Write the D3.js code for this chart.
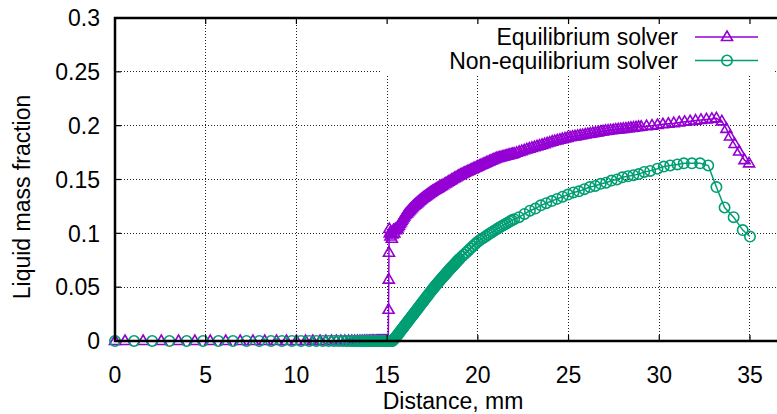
<!DOCTYPE html>
<html>
<head>
<meta charset="utf-8">
<script src="https://cdn.jsdelivr.net/npm/d3@7"></script>
<style>
body { margin: 0; background: #fff; }
svg text { font-family: "Liberation Sans", Arial, Helvetica, sans-serif; font-size: 23px; fill: #000; }
</style>
</head>
<body>
<div id="chart"></div>
<script>
const xTicks = [0, 5, 10, 15, 20, 25, 30, 35];
const yTicks = [0, 0.05, 0.1, 0.15, 0.2, 0.25, 0.3];
const yTickLabels = ["0", "0.05", "0.1", "0.15", "0.2", "0.25", "0.3"];
const seriesNames = ["Equilibrium solver", "Non-equilibrium solver"];
const seriesColors = ["#9400d3", "#009e73"];

// [distance mm, liquid mass fraction]
const equilibrium = [
  [0,0],[0.55,0],[1.55,0],[2.55,0],[3.5,0],[4.4,0],[5.25,0],[6.1,0],[6.9,0],[7.6,0],
  [8.25,0],[8.9,0],[9.45,0],[10.0,0],[10.5,0],[10.9,0],[11.3,0],[11.62,0],[11.93,0],[12.2,0],
  [12.45,0],[12.67,0],[12.87,0],[13.05,0],[13.21,0],[13.36,0],[13.5,0],[13.62,0],[13.74,0],[13.84,0],
  [13.94,0],[14.03,0],[14.11,0],[14.19,0],[14.26,0],[14.33,0],[14.4,0],[14.46,0],[14.52,0],[14.58,0],
  [14.63,0],[14.68,0],[14.73,0],[14.78,0],[14.82,0],[14.86,0],[14.9,0],[14.94,0],[14.98,0],[15.02,0],
  [15.06,0],[15.08,0.029],[15.09,0.057],[15.1,0.082],[15.12,0.104],
  [15.14,0.100],[15.18,0.097],[15.22,0.101],[15.26,0.095],[15.30,0.099],[15.35,0.103],[15.40,0.100],
  [15.45,0.104],[15.50,0.103],
  [15.55,0.1044],[15.60,0.1058],[15.65,0.1072],[15.70,0.1086],[15.75,0.1100],[15.80,0.1114],[15.85,0.1128],
  [15.90,0.1142],[15.95,0.1156],[16.00,0.1170],[16.05,0.1179],[16.10,0.1188],[16.15,0.1197],[16.20,0.1206],
  [16.25,0.1215],[16.30,0.1224],[16.35,0.1233],[16.40,0.1242],[16.45,0.1251],[16.50,0.1260],[16.55,0.1267],
  [16.60,0.1274],[16.65,0.1281],[16.70,0.1288],[16.75,0.1295],[16.80,0.1302],[16.85,0.1309],[16.90,0.1316],
  [16.95,0.1323],[17.00,0.1330],[17.05,0.1336],[17.10,0.1342],[17.15,0.1348],[17.20,0.1354],[17.25,0.1360],
  [17.30,0.1366],[17.35,0.1372],[17.40,0.1378],[17.45,0.1384],[17.50,0.1390],[17.55,0.1395],[17.60,0.1400],
  [17.65,0.1405],[17.70,0.1410],[17.75,0.1415],[17.80,0.1420],[17.85,0.1425],[17.90,0.1430],[17.95,0.1435],
  [18.00,0.1440],[18.08,0.1448],[18.16,0.1456],[18.24,0.1464],[18.32,0.1472],[18.40,0.1480],[18.48,0.1488],
  [18.56,0.1496],[18.64,0.1504],[18.72,0.1512],[18.80,0.1520],[18.88,0.1528],[18.96,0.1536],[19.04,0.1543],
  [19.12,0.1549],[19.20,0.1556],[19.28,0.1562],[19.36,0.1569],[19.44,0.1575],[19.52,0.1581],[19.60,0.1588],
  [19.68,0.1594],[19.76,0.1601],[19.84,0.1607],[19.92,0.1613],[20.00,0.1620],[20.08,0.1626],[20.16,0.1632],
  [20.24,0.1638],[20.32,0.1644],[20.40,0.1650],[20.48,0.1656],[20.56,0.1662],[20.64,0.1668],[20.72,0.1674],
  [20.80,0.1680],[20.88,0.1686],[20.96,0.1692],[21.04,0.1697],[21.12,0.1701],[21.20,0.1704],[21.28,0.1708],
  [21.36,0.1711],[21.44,0.1715],[21.52,0.1718],[21.60,0.1722],[21.68,0.1726],[21.76,0.1729],[21.84,0.1733],
  [21.92,0.1736],[22.00,0.1740],[22.14,0.1748],[22.28,0.1756],[22.42,0.1763],[22.56,0.1771],[22.70,0.1779],
  [22.84,0.1787],[22.98,0.1794],[23.12,0.1801],[23.26,0.1808],[23.40,0.1815],[23.54,0.1822],[23.68,0.1829],
  [23.82,0.1836],[23.96,0.1843],[24.10,0.1851],[24.24,0.1857],[24.38,0.1863],[24.52,0.1869],[24.66,0.1875],
  [24.80,0.1881],[24.94,0.1887],[25.08,0.1892],[25.22,0.1897],[25.36,0.1901],[25.50,0.1905],[25.64,0.1909],
  [25.78,0.1913],[25.92,0.1918],[26.06,0.1922],[26.20,0.1926],[26.34,0.1930],[26.48,0.1934],[26.62,0.1938],
  [26.76,0.1943],[26.90,0.1947],[27.04,0.1951],[27.18,0.1954],[27.32,0.1957],[27.46,0.1960],[27.60,0.1963],
  [27.74,0.1966],[27.88,0.1968],[28.02,0.1970],[28.16,0.1973],[28.30,0.1976],[28.44,0.1979],[28.58,0.1982],
  [28.72,0.1985],[28.86,0.1988],[29.00,0.1990],[29.30,0.1995],[29.60,0.2000],[29.90,0.2006],[30.20,0.2013],
  [30.50,0.2018],[30.80,0.2023],[31.10,0.2030],[31.40,0.2036],[31.70,0.2041],[32.00,0.2047],[32.30,0.2053],
  [32.60,0.2058],[32.90,0.2063],[33.15,0.2068],[33.45,0.204],[33.70,0.197],[33.90,0.190],[34.15,0.183],
  [34.40,0.176],[34.70,0.168],[34.95,0.165]
];

const nonEquilibrium = [
  [0,0],[1.05,0],[2.05,0],[3.0,0],[3.95,0],[4.85,0],[5.7,0],[6.5,0],[7.25,0],[7.95,0],
  [8.6,0],[9.2,0],[9.75,0],[10.25,0],[10.7,0],[11.1,0],[11.46,0],[11.78,0],[12.07,0],[12.33,0],
  [12.56,0],[12.77,0],[12.96,0],[13.13,0],[13.29,0],[13.43,0],[13.56,0],[13.68,0],[13.79,0],[13.89,0],
  [13.98,0],[14.07,0],[14.15,0],[14.23,0],[14.3,0],[14.37,0],[14.43,0],[14.49,0],[14.55,0],[14.6,0],
  [14.65,0],[14.7,0],[14.75,0],[14.8,0],[14.84,0],[14.88,0],[14.92,0],[14.96,0],[15.0,0],[15.04,0],
  [15.08,0],[15.12,0],[15.16,0],[15.2,0],[15.24,0],[15.28,0],
  [15.32,0.0005],[15.36,0.0013],[15.40,0.0021],[15.45,0.0030],[15.50,0.0040],[15.55,0.0051],[15.60,0.0062],
  [15.65,0.0073],[15.70,0.0084],[15.75,0.0095],[15.80,0.0106],[15.85,0.0117],[15.90,0.0128],[15.95,0.0139],
  [16.00,0.0150],[16.05,0.0161],[16.10,0.0172],[16.15,0.0183],[16.20,0.0194],[16.25,0.0205],[16.30,0.0216],
  [16.35,0.0227],[16.40,0.0238],[16.45,0.0249],[16.50,0.0260],[16.55,0.0271],[16.60,0.0282],[16.65,0.0293],
  [16.70,0.0304],[16.75,0.0315],[16.80,0.0326],[16.85,0.0337],[16.90,0.0348],[16.95,0.0359],[17.00,0.0370],
  [17.05,0.0381],[17.10,0.0392],[17.15,0.0403],[17.20,0.0414],[17.25,0.0425],[17.30,0.0436],[17.35,0.0447],
  [17.40,0.0458],[17.45,0.0469],[17.50,0.0480],[17.55,0.0490],[17.60,0.0500],[17.65,0.0510],[17.70,0.0520],
  [17.75,0.0530],[17.80,0.0540],[17.85,0.0550],[17.90,0.0560],[17.95,0.0570],[18.00,0.0580],[18.05,0.0590],
  [18.10,0.0599],[18.15,0.0609],[18.20,0.0618],[18.25,0.0628],[18.30,0.0637],[18.35,0.0647],[18.40,0.0656],
  [18.45,0.0666],[18.50,0.0675],[18.55,0.0684],[18.60,0.0693],[18.65,0.0702],[18.70,0.0711],[18.75,0.0720],
  [18.80,0.0729],[18.85,0.0738],[18.90,0.0747],[18.95,0.0756],[19.00,0.0765],[19.12,0.0784],[19.24,0.0803],
  [19.36,0.0822],[19.48,0.0841],[19.60,0.0861],[19.72,0.0880],[19.84,0.0899],[19.96,0.0918],[20.08,0.0934],
  [20.20,0.0947],[20.32,0.0960],[20.44,0.0973],[20.56,0.0987],[20.68,0.1000],[20.80,0.1013],[20.92,0.1026],
  [21.04,0.1039],[21.16,0.1052],[21.28,0.1064],[21.40,0.1075],[21.52,0.1087],[21.64,0.1098],[21.76,0.1110],
  [21.88,0.1121],[22.00,0.1131],
  [22.27,0.115],[22.57,0.118],[22.87,0.121],[23.17,0.123],[23.47,0.126],[23.77,0.128],[24.07,0.130],
  [24.37,0.132],[24.67,0.134],[24.97,0.136],[25.27,0.138],[25.57,0.139],[25.87,0.141],[26.17,0.143],
  [26.47,0.144],[26.77,0.146],[27.07,0.147],[27.37,0.149],[27.67,0.150],[27.97,0.152],[28.27,0.153],
  [28.57,0.154],[28.87,0.155],[29.17,0.157],[29.50,0.158],[29.90,0.160],[30.25,0.162],[30.60,0.163],
  [31.00,0.164],[31.35,0.165],[31.80,0.165],[32.25,0.165],[32.70,0.163],[33.15,0.143],[33.60,0.124],
  [34.10,0.115],[34.60,0.103],[35.00,0.097]
];

const width = 777, height = 414;
const plotLeft = 115, plotTop = 18, plotBottom = 341, plotRight = 791.7;

const x = d3.scaleLinear().domain([0, 37.3]).range([plotLeft, plotRight]);
const y = d3.scaleLinear().domain([0, 0.3]).range([plotBottom, plotTop]);

const svg = d3.select("#chart").append("svg")
    .attr("width", width)
    .attr("height", height);

// dotted grid
const grid = svg.append("g")
    .attr("stroke", "#222")
    .attr("stroke-width", 1)
    .attr("stroke-dasharray", "1,2")
    .attr("shape-rendering", "crispEdges");

grid.selectAll("line.vx")
    .data(xTicks.filter(d => d > 0))
    .enter().append("line")
    .attr("x1", d => x(d)).attr("x2", d => x(d))
    .attr("y1", plotBottom).attr("y2", plotTop);

grid.selectAll("line.hy")
    .data(yTicks.filter(d => d > 0 && d < 0.3))
    .enter().append("line")
    .attr("x1", plotLeft).attr("x2", width)
    .attr("y1", d => y(d)).attr("y2", d => y(d));

// series
const triangle = "M0,-6L5.5,3.5L-5.5,3.5Z";
const markStroke = 1.6;
const series = [equilibrium, nonEquilibrium];

series.forEach((data, i) => {
    const color = seriesColors[i];
    const line = d3.line().x(d => x(d[0])).y(d => y(d[1]));

    svg.append("path")
        .datum(data)
        .attr("d", line)
        .attr("fill", "none")
        .attr("stroke", color)
        .attr("stroke-width", 1.5);

    const marks = svg.append("g")
        .attr("fill", "none")
        .attr("stroke", color)
        .attr("stroke-width", markStroke);

    if (i === 0) {
        marks.selectAll("path")
            .data(data)
            .enter().append("path")
            .attr("d", triangle)
            .attr("transform", d => `translate(${x(d[0])},${y(d[1])})`);
    } else {
        marks.selectAll("circle")
            .data(data)
            .enter().append("circle")
            .attr("cx", d => x(d[0]))
            .attr("cy", d => y(d[1]))
            .attr("r", 5.2);
    }
});

// opaque key
svg.append("rect")
    .attr("x", 380).attr("y", plotTop + 1)
    .attr("width", 393).attr("height", 57)
    .attr("fill", "#fff");

const key = svg.append("g");
seriesNames.forEach((name, i) => {
    const ky = 37 + i * 23.5;
    key.append("text")
        .attr("x", 678).attr("y", ky)
        .attr("dy", "0.36em")
        .attr("text-anchor", "end")
        .text(name);
    key.append("line")
        .attr("x1", 695).attr("x2", 758)
        .attr("y1", ky).attr("y2", ky)
        .attr("stroke", seriesColors[i])
        .attr("stroke-width", 1.5);
    if (i === 0) {
        key.append("path")
            .attr("d", triangle)
            .attr("transform", `translate(727,${ky})`)
            .attr("fill", "none").attr("stroke", seriesColors[i]).attr("stroke-width", markStroke);
    } else {
        key.append("circle")
            .attr("cx", 727).attr("cy", ky).attr("r", 5.2)
            .attr("fill", "none").attr("stroke", seriesColors[i]).attr("stroke-width", markStroke);
    }
});

// border and ticks
svg.append("path")
    .attr("d", `M${width},${plotTop}H${plotLeft}V${plotBottom}H${width}`)
    .attr("fill", "none")
    .attr("stroke", "#000")
    .attr("stroke-width", 2.5);

const ticks = svg.append("g").attr("stroke", "#000").attr("stroke-width", 1.2);
ticks.selectAll("line.bx")
    .data(xTicks.filter(d => d > 0))
    .enter().append("line")
    .attr("x1", d => x(d)).attr("x2", d => x(d))
    .attr("y1", plotBottom).attr("y2", plotBottom - 6);
ticks.selectAll("line.tx")
    .data(xTicks.filter(d => d > 0))
    .enter().append("line")
    .attr("x1", d => x(d)).attr("x2", d => x(d))
    .attr("y1", plotTop).attr("y2", plotTop + 6);
ticks.selectAll("line.ly")
    .data(yTicks.filter(d => d > 0 && d < 0.3))
    .enter().append("line")
    .attr("x1", plotLeft).attr("x2", plotLeft + 6)
    .attr("y1", d => y(d)).attr("y2", d => y(d));

// tick labels
svg.append("g").selectAll("text")
    .data(xTicks)
    .enter().append("text")
    .attr("x", d => x(d))
    .attr("y", 383)
    .attr("text-anchor", "middle")
    .text(d => d);

svg.append("g").selectAll("text")
    .data(yTicks)
    .enter().append("text")
    .attr("x", 100)
    .attr("y", d => y(d))
    .attr("dy", "0.36em")
    .attr("text-anchor", "end")
    .text((d, i) => yTickLabels[i]);

// axis titles
svg.append("text")
    .attr("x", 453).attr("y", 409)
    .attr("text-anchor", "middle")
    .text("Distance, mm");

svg.append("text")
    .attr("transform", "translate(29.5,197) rotate(-90)")
    .attr("text-anchor", "middle")
    .text("Liquid mass fraction");
</script>
</body>
</html>
